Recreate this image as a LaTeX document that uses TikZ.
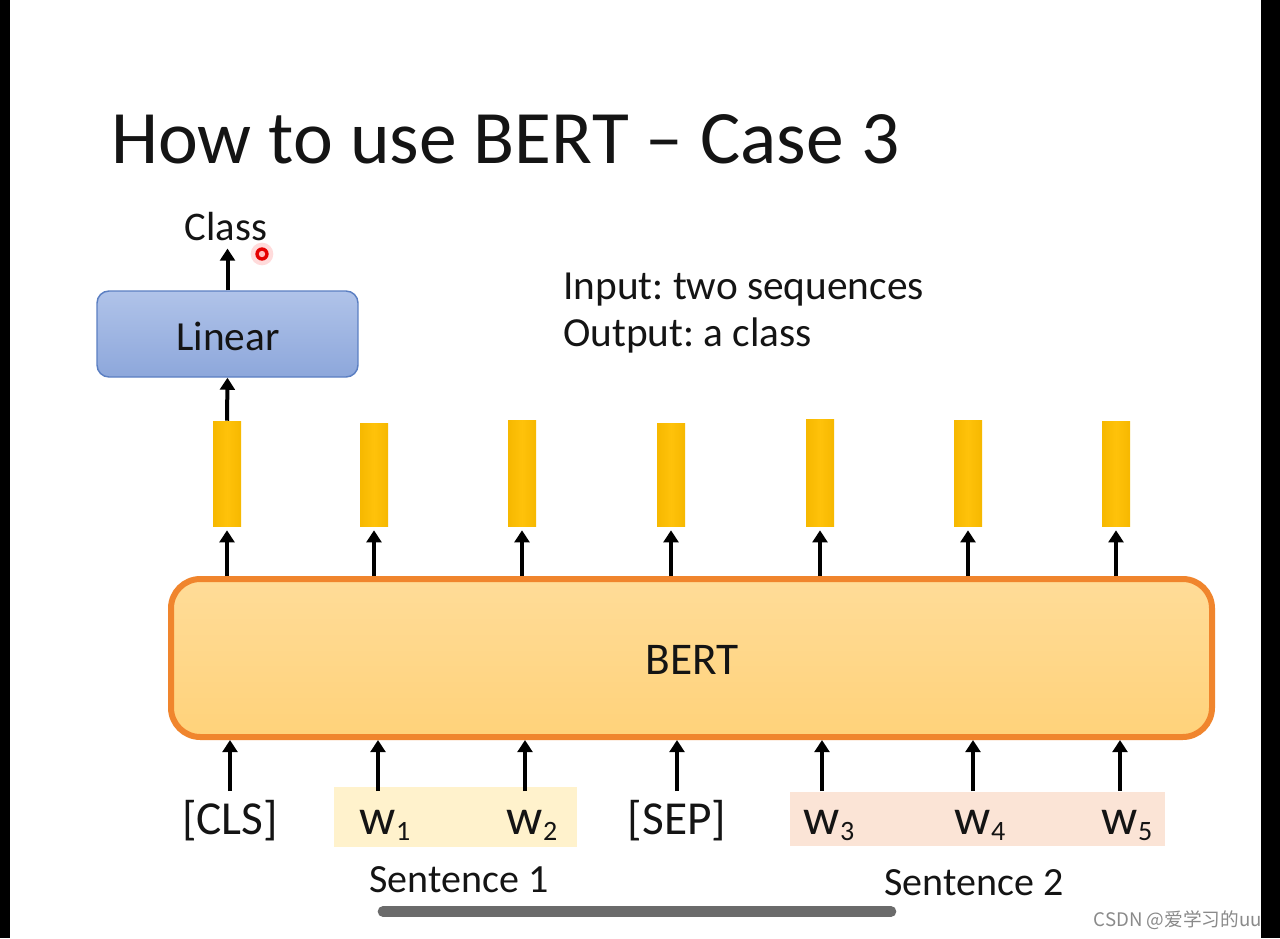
\documentclass[tikz,border=0pt]{standalone}
\usepackage{fontspec}
\setmainfont{Carlito}
\newfontfamily\cjk{Noto Sans CJK SC}
\usetikzlibrary{arrows.meta,fit}
\frenchspacing
\definecolor{barY}{HTML}{FFC20A}
\definecolor{barYd}{HTML}{F6B800}
\definecolor{bertTop}{HTML}{FFDC98}
\definecolor{bertBot}{HTML}{FFD27A}
\definecolor{bertLine}{HTML}{F0852D}
\definecolor{linTop}{HTML}{B0C3E9}
\definecolor{linBot}{HTML}{8DA7DB}
\definecolor{linLine}{HTML}{5B7FC2}
\definecolor{sOne}{HTML}{FFF2CC}
\definecolor{sTwo}{HTML}{FBE4D6}
\definecolor{scroll}{HTML}{6B6B6B}
\definecolor{wmark}{HTML}{8A8A8A}
\definecolor{ink}{HTML}{141414}
\begin{document}
\begin{tikzpicture}[x=0.75pt,y=-0.75pt,
  arr/.style={line width=3pt,-{Triangle[width=11pt,length=9pt]}},
  vecbar/.style={draw=none,inner sep=0pt,left color=barYd,right color=barYd,middle color=barY},
  bertbox/.style={draw=bertLine,line width=4.5pt,rounded corners=22pt,inner sep=0pt,top color=bertTop,bottom color=bertBot},
  linbox/.style={draw=linLine,line width=1.1pt,rounded corners=9pt,inner sep=0pt,top color=linTop,bottom color=linBot},
  hl/.style={draw=none,inner sep=0pt},
  tok/.style={inner sep=0pt,anchor=base,text height=32pt,text depth=6pt,text=ink,font=\fontsize{35.5}{40}\selectfont},
  wtok/.style={tok,font=\fontsize{38}{44}\selectfont},
  lbl/.style={inner sep=0pt,anchor=base,text=ink}
]
\useasboundingbox (0,0) rectangle (1280,938);
\fill[white] (0,0) rectangle (1280,938);

% title
\node[lbl,anchor=base west,font=\fontsize{56.6}{68}\selectfont] (title) at (111,163) {How to use BERT – Case 3};

% input/output text
\node[lbl,anchor=base west,font=\fontsize{31}{34}\selectfont] (in1) at (563,299) {Input: two sequences};
\node[lbl,anchor=base west,font=\fontsize{31}{34}\selectfont] (in2) at (563,346) {Output: a class};

% highlight boxes
\node[hl,fill=sOne,fit={(334,787) (577,847)}] (s1box) {};
\node[hl,fill=sTwo,fit={(790,792) (1165,846)}] (s2box) {};

% BERT
\node[bertbox,fit={(171,579) (1212,737)}] (bert) {};
\node[font=\fontsize{34}{40}\selectfont,inner sep=0pt,text=ink] (bertlbl) at (692,660) {BERT};

% Linear + Class
\node[linbox,fit={(97,291) (358,377)}] (lin) {};
\node[font=\fontsize{31}{36}\selectfont,inner sep=0pt,text=ink] (linlbl) at (228,336) {Linear};
\node[lbl,font=\fontsize{30.5}{34}\selectfont] (cls) at (226,240) {Class};

% output vectors
\foreach \i/\x/\t in {1/227/421,2/374/423,3/522/420,4/671/423,5/820/419,6/968/420,7/1116/421}{
  \node[vecbar,fit={(\x-14,\t) (\x+14,526)}] (v\i) {};
  \draw[arr,shorten >=3pt] (v\i.south |- bert.north) -- (v\i.south);
}
\draw[arr] (v1.north) -- (lin.south);
\draw[arr,shorten >=6pt] (lin.north) -- (lin.north |- cls.south);

% input tokens
\node[tok] (t1) at (230,834) {[CLS]};
\node[wtok] (t2) at (378,834) {w\rlap{\raisebox{-4.5pt}{\fontsize{21}{21}\selectfont 1}}};
\node[wtok] (t3) at (525,834) {w\rlap{\raisebox{-4.5pt}{\fontsize{21}{21}\selectfont 2}}};
\node[tok] (t4) at (677,834) {[SEP]};
\node[wtok] (t5) at (822,834) {w\rlap{\raisebox{-4.5pt}{\fontsize{21}{21}\selectfont 3}}};
\node[wtok] (t6) at (973,834) {w\rlap{\raisebox{-4.5pt}{\fontsize{21}{21}\selectfont 4}}};
\node[wtok] (t7) at (1120,834) {w\rlap{\raisebox{-4.5pt}{\fontsize{21}{21}\selectfont 5}}};
\foreach \i in {1,...,7}{
  \draw[arr] (t\i.north) -- (t\i.north |- bert.south);
}

\node[lbl,font=\fontsize{30}{34}\selectfont] (sent1) at (459,892) {Sentence 1};
\node[lbl,font=\fontsize{30}{34}\selectfont] (sent2) at (974,895) {Sentence 2};

% laser pointer dot
\fill[red!20,opacity=0.7] (262,254) circle (8.5pt);
\fill[red!90!black] (262,254) circle (5pt);
\fill[red!25] (262,254) circle (2.4pt);

% scroll bar
\draw[scroll,line width=8pt,line cap=round] (383,911.5) -- (891,911.5);

% watermark
\node[lbl,anchor=base east,text=wmark,font=\cjk\fontsize{14}{16}\selectfont] (wm) at (1262,926) {CSDN @爱学习的uu};

% black side bars
\fill[black] (0,0) rectangle (10,938);
\fill[black] (1261,0) rectangle (1280,938);
\end{tikzpicture}
\end{document}
